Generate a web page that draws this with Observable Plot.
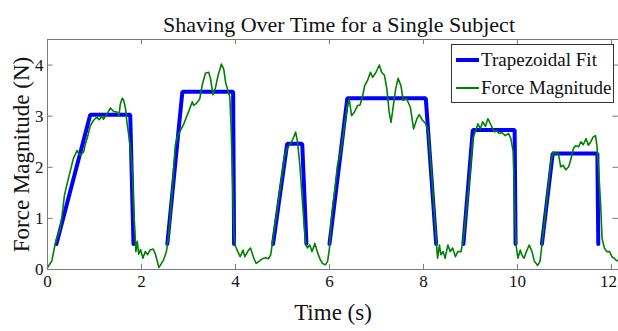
<!DOCTYPE html>
<html><head><meta charset="utf-8">
<script src="https://cdn.jsdelivr.net/npm/d3@7"></script>
<script src="https://cdn.jsdelivr.net/npm/@observablehq/plot@0.6"></script>
<style>
body{margin:0;background:#fff;}
#chart{position:relative;width:618px;height:331px;}
#legend{position:absolute;left:451px;top:44px;width:161px;height:57px;border:1px solid #333;background:#fff;font-family:'Liberation Serif',serif;font-size:19px;color:#111;}
#legend .row{position:absolute;left:4px;height:24px;display:flex;align-items:center;white-space:nowrap;}
#legend .sw{width:23px;margin-right:2px;}
</style></head><body><div id="chart"><div id="legend"></div></div>
<script>
const titleText = "Shaving Over Time for a Single Subject";
const xLabel = "Time (s)";
const yLabel = "Force Magnitude (N)";
const seriesNames = ["Trapezoidal Fit", "Force Magnitude"];
const seriesColors = ["#0000ff", "#008000"];
const xTicks = [0, 2, 4, 6, 8, 10, 12];
const yTicks = [0, 1, 2, 3, 4];

const trapGroup = [1,1,1,1, 2,2,2,2, 3,3,3,3, 4,4,4,4, 5,5,5,5, 6,6,6,6];
const trapTime  = [0.19,0.91,1.76,1.83, 2.55,2.87,3.95,3.97, 4.80,5.10,5.42,5.51, 6.00,6.38,8.05,8.27, 8.85,9.05,9.94,9.96, 10.52,10.75,11.70,11.72];
const trapForce = [0.5,3.03,3.03,0.5, 0.5,3.48,3.48,0.5, 0.5,2.46,2.46,0.5, 0.5,3.35,3.35,0.5, 0.5,2.73,2.73,0.5, 0.5,2.27,2.27,0.5];

const forceTime = [0.00,0.09,0.16,0.20,0.27,0.31,0.36,0.41,0.48,0.55,0.63,0.66,0.70,0.77,0.80,0.86,0.91,0.98,1.05,1.10,1.16,1.19,1.27,1.34,1.41,1.48,1.52,1.55,1.59,1.62,1.66,1.69,1.73,1.78,1.81,1.83,1.86,1.88,1.91,1.94,1.98,2.03,2.08,2.13,2.18,2.25,2.30,2.37,2.40,2.47,2.53,2.58,2.63,2.69,2.72,2.77,2.83,2.90,2.97,3.04,3.08,3.11,3.17,3.24,3.29,3.36,3.43,3.47,3.52,3.57,3.63,3.67,3.70,3.75,3.79,3.84,3.88,3.91,3.94,3.97,4.00,4.05,4.10,4.16,4.20,4.27,4.32,4.39,4.44,4.50,4.57,4.64,4.70,4.75,4.80,4.86,4.93,5.00,5.05,5.10,5.15,5.21,5.24,5.28,5.32,5.37,5.41,5.46,5.49,5.53,5.58,5.63,5.69,5.74,5.79,5.85,5.91,5.96,6.00,6.03,6.07,6.10,6.17,6.24,6.31,6.37,6.42,6.47,6.53,6.60,6.65,6.70,6.75,6.81,6.87,6.92,6.99,7.06,7.11,7.17,7.22,7.27,7.31,7.36,7.41,7.46,7.52,7.57,7.64,7.72,7.79,7.86,7.91,7.98,8.05,8.10,8.16,8.23,8.27,8.30,8.34,8.37,8.42,8.46,8.52,8.57,8.62,8.68,8.73,8.80,8.85,8.91,8.98,9.05,9.11,9.16,9.21,9.26,9.32,9.37,9.44,9.51,9.55,9.61,9.67,9.74,9.81,9.86,9.91,9.94,9.97,10.01,10.06,10.09,10.14,10.19,10.25,10.31,10.36,10.43,10.48,10.52,10.59,10.66,10.71,10.76,10.82,10.87,10.92,10.97,11.03,11.09,11.14,11.19,11.24,11.30,11.35,11.40,11.46,11.51,11.56,11.61,11.66,11.69,11.73,11.77,11.80,11.85,11.90,11.96,12.01,12.06,12.11,12.15];
const forceValue = [0.04,0.16,0.48,0.62,0.80,1.06,1.45,1.65,1.91,2.17,2.33,2.27,2.24,2.30,2.43,2.62,2.81,2.92,2.98,2.93,3.00,2.94,3.05,3.16,3.09,3.08,3.01,3.24,3.35,3.31,3.15,2.88,2.62,2.23,1.78,1.26,0.74,0.35,0.55,0.30,0.39,0.22,0.35,0.29,0.38,0.40,0.29,0.04,0.08,0.19,0.35,0.67,1.26,2.04,2.43,2.62,2.72,2.85,3.01,3.18,3.28,3.21,3.25,3.34,3.60,3.84,3.86,3.73,3.42,3.54,3.80,3.92,4.02,3.92,3.66,3.50,3.37,2.69,1.65,0.67,0.45,0.35,0.25,0.38,0.25,0.37,0.42,0.22,0.12,0.16,0.21,0.23,0.21,0.29,0.61,1.00,1.45,1.91,2.24,2.37,2.43,2.53,2.59,2.69,2.50,2.04,1.52,0.87,0.51,0.42,0.48,0.35,0.51,0.35,0.22,0.12,0.09,0.16,0.42,0.87,1.26,1.45,2.04,2.30,2.75,3.14,3.34,3.01,3.08,3.21,3.22,3.37,3.60,3.70,3.86,3.76,3.86,4.00,3.86,3.80,3.54,3.08,2.88,3.21,3.54,3.74,3.60,3.31,3.34,3.18,2.75,2.95,3.03,2.92,2.85,2.70,2.04,1.13,0.61,0.22,0.48,0.29,0.35,0.22,0.48,0.35,0.42,0.25,0.35,0.35,0.61,1.13,1.78,2.56,2.72,2.85,2.75,2.89,2.80,2.95,2.82,2.69,2.72,2.66,2.68,2.62,2.66,2.56,2.30,1.26,0.48,0.22,0.38,0.29,0.22,0.35,0.48,0.35,0.16,0.08,0.16,0.48,1.07,1.65,2.10,2.30,2.27,2.27,2.01,2.04,1.95,2.01,2.17,2.37,2.42,2.40,2.50,2.44,2.56,2.43,2.50,2.59,2.62,2.43,1.91,1.26,0.61,0.42,0.35,0.35,0.25,0.22,0.17,0.18];

const xMax = 12.15, yMax = 4.5;
const serif = "'Liberation Serif', 'Times New Roman', serif";
const trap = trapTime.map((t, i) => ({t, f: trapForce[i], g: trapGroup[i]}));
const force = forceTime.map((t, i) => ({t, f: forceValue[i]}));
const gray = "#7a7a7a";
const tickText = {tickSize: 0, label: null, fontSize: 17, fontFamily: serif, fill: "#111", tickFormat: d => String(d)};

const chart = Plot.plot({
  width: 618, height: 331,
  marginLeft: 47, marginRight: 0, marginTop: 39, marginBottom: 62,
  style: {fontFamily: serif, fontSize: "17px", background: "#fff", color: "#111"},
  x: {domain: [0, xMax], axis: null},
  y: {domain: [0, yMax], axis: null},
  marks: [
    Plot.line(trap, {x: "t", y: "f", z: "g", stroke: seriesColors[0], strokeWidth: 4, strokeLinejoin: "miter"}),
    Plot.line(force, {x: "t", y: "f", stroke: seriesColors[1], strokeWidth: 1.6}),
    Plot.frame({stroke: gray, strokeWidth: 1}),
    Plot.ruleX(xTicks, {x: d => d, y1: 0, y2: 0.1, stroke: gray}),
    Plot.ruleX(xTicks, {x: d => d, y1: yMax, y2: yMax - 0.1, stroke: gray}),
    Plot.ruleY(yTicks, {y: d => d, x1: 0, x2: 0.12, stroke: gray}),
    Plot.ruleY(yTicks, {y: d => d, x1: xMax, x2: xMax - 0.12, stroke: gray}),
    Plot.axisX({...tickText, ticks: xTicks.slice(0, -1), tickPadding: 5}),
    Plot.axisX({...tickText, ticks: xTicks.slice(-1), tickPadding: 5, dx: -3}),
    Plot.axisY({...tickText, ticks: yTicks, tickPadding: 4}),
    Plot.text([titleText], {frameAnchor: "top", dy: -23, dx: 6, fontSize: 22, fontFamily: serif, fill: "#111"}),
    Plot.text([xLabel], {frameAnchor: "bottom", dy: 50, fontSize: 23, fontFamily: serif, fill: "#111"}),
    Plot.text([yLabel], {frameAnchor: "left", textAnchor: "middle", dx: -26, rotate: -90, fontSize: 23, fontFamily: serif, fill: "#111"})
  ]
});
document.getElementById("chart").prepend(chart);

const legend = document.getElementById("legend");
seriesNames.forEach((name, i) => {
  const row = document.createElement("div");
  row.className = "row";
  row.style.top = (3 + i * 28) + "px";
  const sw = document.createElement("span");
  sw.className = "sw";
  sw.style.borderTop = (i === 0 ? 4 : 2) + "px solid " + seriesColors[i];
  const tx = document.createElement("span");
  tx.textContent = name;
  row.appendChild(sw); row.appendChild(tx);
  legend.appendChild(row);
});
</script></body></html>
